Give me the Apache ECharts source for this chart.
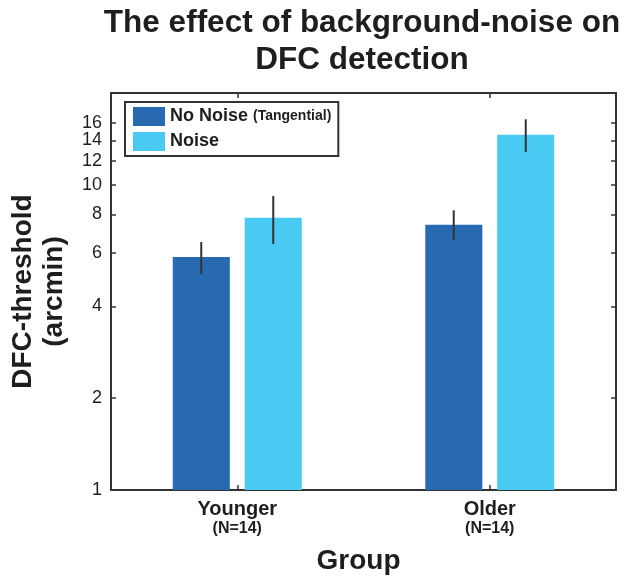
<!DOCTYPE html>
<html>
<head>
<meta charset="utf-8">
<script src="https://cdn.jsdelivr.net/npm/echarts@6/dist/echarts.min.js"></script>
<style>
html,body{margin:0;padding:0;background:#fff;}
#c{width:626px;height:579px;}
</style>
</head>
<body>
<div id="c"></div>
<script>
// ---- data ----
var categories = ['Younger', 'Older'];
var groupN = [14, 14];
var seriesNames = ['No Noise (Tangential)', 'Noise'];
var noNoise = [5.8, 7.4];
var noNoiseLow = [5.1, 6.6];
var noNoiseHigh = [6.5, 8.25];
var noise = [7.8, 14.6];
var noiseLow = [6.4, 12.8];
var noiseHigh = [9.2, 16.4];
var yTicks = [1, 2, 4, 6, 8, 10, 12, 14, 16];
var yMin = 1, yMax = 20;

// ---- styling ----
var FONT = '"Liberation Sans", Arial, Helvetica, sans-serif';
var INK = '#1e1e1e';
var AX = '#333333';
var colors = ['#286AB2', '#48CAF2'];
var BAR_W = '22.6%';
var BAR_GAP = '26%';
var OFFSET_FRAC = 0.1426;

// label positions: the tick values plus the (unlabelled) axis top, so that
// the automatic "max label overlap" rule never hides the 16 label
var yLabelValues = yTicks.concat([yMax]);

var chart = echarts.init(document.getElementById('c'), null, {renderer: 'canvas'});

function errSeries(low, high, sign, id) {
  return {
    type: 'custom',
    name: id,
    xAxisIndex: 0, yAxisIndex: 0,
    silent: true,
    z: 10,
    data: categories.map(function (c, i) { return [i, low[i], high[i]]; }),
    renderItem: function (params, api) {
      var i = api.value(0);
      var p1 = api.coord([i, api.value(1)]);
      var p2 = api.coord([i, api.value(2)]);
      var band = params.coordSys.width / categories.length;
      var dx = sign * band * OFFSET_FRAC;
      return {
        type: 'line',
        shape: {x1: p1[0] + dx, y1: p1[1], x2: p2[0] + dx, y2: p2[1]},
        style: {stroke: AX, lineWidth: 2}
      };
    }
  };
}

var yAxisBase = {
  type: 'log',
  logBase: 10,
  min: yMin,
  max: yMax,
  axisLine: {show: true, lineStyle: {color: AX, width: 2}},
  axisTick: {show: true, inside: true, length: 5, customValues: yTicks, lineStyle: {color: AX, width: 1.5}},
  splitLine: {show: false},
  minorTick: {show: false}
};

var option = {
  animation: false,
  backgroundColor: '#ffffff',
  textStyle: {fontFamily: FONT},
  graphic: [{
    type: 'text',
    x: 362, y: 5,
    style: {
      text: 'The effect of background-noise on\nDFC detection',
      font: 'bold 31.5px ' + FONT,
      lineHeight: 37,
      fill: INK,
      textAlign: 'center',
      textVerticalAlign: 'top'
    }
  }],
  legend: {
    orient: 'vertical',
    left: 125, top: 102,
    data: seriesNames,
    icon: 'rect',
    itemWidth: 32, itemHeight: 19, itemGap: 6,
    padding: [5, 7, 5, 8],
    borderColor: AX, borderWidth: 2,
    backgroundColor: '#fff',
    selectedMode: false,
    formatter: function (name) {
      if (name === seriesNames[0]) return '{a|No Noise}{s| }{b|(Tangential)}';
      return '{a|' + name + '}';
    },
    textStyle: {
      color: INK,
      rich: {
        a: {fontSize: 18, fontWeight: 'bold', fontFamily: FONT, color: INK, lineHeight: 20},
        s: {fontSize: 18, fontFamily: FONT, lineHeight: 20},
        b: {fontSize: 14, fontWeight: 'bold', fontFamily: FONT, color: INK, lineHeight: 20}
      }
    }
  },
  grid: {left: 111, right: 10, top: 93, bottom: 89, containLabel: false, outerBoundsMode: 'none'},
  xAxis: [{
    type: 'category',
    data: categories,
    position: 'bottom',
    axisLine: {show: true, lineStyle: {color: AX, width: 2}},
    axisTick: {show: true, inside: true, alignWithLabel: true, length: 5, lineStyle: {color: AX, width: 1.5}},
    axisLabel: {
      margin: 8,
      formatter: function (v, i) { return '{a|' + v + '}\n{b|(N=' + groupN[i] + ')}'; },
      rich: {
        a: {fontSize: 20, fontWeight: 'bold', fontFamily: FONT, color: INK, lineHeight: 22},
        b: {fontSize: 16, fontWeight: 'bold', fontFamily: FONT, color: INK, lineHeight: 18}
      }
    },
    name: 'Group',
    nameLocation: 'middle',
    nameGap: 57,
    nameTextStyle: {fontSize: 28, fontWeight: 'bold', fontFamily: FONT, color: INK, padding: [0, 10, 0, 0]}
  }, {
    type: 'category',
    data: categories,
    position: 'top',
    axisLine: {show: true, lineStyle: {color: AX, width: 2}},
    axisTick: {show: true, inside: true, alignWithLabel: true, length: 5, lineStyle: {color: AX, width: 1.5}},
    axisLabel: {show: false}
  }],
  yAxis: [Object.assign({}, yAxisBase, {
    position: 'left',
    axisLabel: {
      show: true, customValues: yLabelValues, margin: 9,
      hideOverlap: false,
      fontSize: 18, fontFamily: FONT, color: INK,
      formatter: function (v) {
        var r = Math.round(v);
        return yTicks.indexOf(r) >= 0 ? String(r) : '';
      }
    },
    name: 'DFC-threshold\n(arcmin)',
    nameLocation: 'middle',
    nameGap: 41,
    nameTextStyle: {fontSize: 28, fontWeight: 'bold', fontFamily: FONT, color: INK, lineHeight: 31}
  }), Object.assign({}, yAxisBase, {
    position: 'right',
    axisLabel: {show: false}
  })],
  series: [{
    type: 'bar',
    name: seriesNames[0],
    data: noNoise,
    barWidth: BAR_W,
    barGap: BAR_GAP,
    itemStyle: {color: colors[0]},
    z: 2
  }, {
    type: 'bar',
    name: seriesNames[1],
    data: noise,
    barWidth: BAR_W,
    barGap: BAR_GAP,
    itemStyle: {color: colors[1]},
    z: 2
  },
  errSeries(noNoiseLow, noNoiseHigh, -1, 'err0'),
  errSeries(noiseLow, noiseHigh, 1, 'err1')
  ]
};
chart.setOption(option);
</script>
</body>
</html>
